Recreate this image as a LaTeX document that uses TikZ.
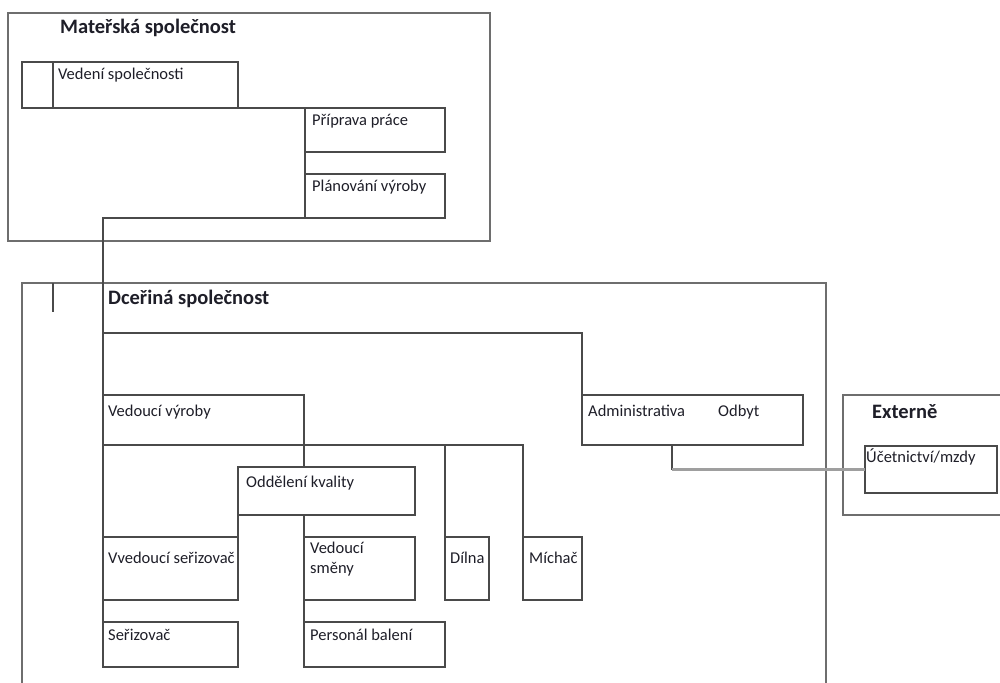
\documentclass[tikz,border=0pt]{standalone}
\usepackage{fontspec}
\setmainfont{Carlito}
\definecolor{lc}{HTML}{4A4A4A}
\definecolor{cc}{HTML}{6E6E6E}
\definecolor{tc}{HTML}{1E1E28}
\tikzset{
  box/.style={draw=lc, line width=1.4pt, inner sep=0pt, outer sep=0pt, anchor=north west, rectangle},
  container/.style={draw=cc, line width=1.4pt, inner sep=0pt, outer sep=0pt, anchor=north west, rectangle},
  conn/.style={draw=lc, line width=1.4pt},
  extconn/.style={draw=gray!75, line width=2.2pt},
  txt/.style={inner sep=0pt, anchor=base west, text=tc, font=\fontsize{16.5}{19}\selectfont},
  ttl/.style={inner sep=0pt, anchor=base west, text=tc, font=\bfseries\fontsize{20.5}{24}\selectfont}
}
\begin{document}
\begin{tikzpicture}[x=1pt,y=-1pt]
\useasboundingbox[fill=white] (0,0) rectangle (1000,682);
\clip (0,0) rectangle (1000,682);

% containers
\node[container, minimum width=482pt, minimum height=228pt] (mat) at (8,13) {};
\node[container, minimum width=804pt, minimum height=430pt] (dcer) at (22,283) {};
\node[container, minimum width=180pt, minimum height=120pt] (ext) at (843,395) {};
\draw[conn] ([xshift=31pt]dcer.north west) -- ++(0,29);

% boxes
\node[box, minimum width=216pt, minimum height=46pt] (ved) at (22,62) {};
\draw[conn] ([xshift=31pt]ved.north west) -- ([xshift=31pt]ved.south west);
\node[box, minimum width=140pt, minimum height=44pt] (prip) at (305,108) {};
\node[box, minimum width=140pt, minimum height=44pt] (plan) at (305,174) {};
\node[box, minimum width=201pt, minimum height=50pt] (vv) at (103,395) {};
\node[box, minimum width=221pt, minimum height=50pt] (admin) at (582,395) {};
\node[box, minimum width=177pt, minimum height=48pt] (odd) at (238,467) {};
\node[box, minimum width=135pt, minimum height=63pt] (vs) at (103,537) {};
\node[box, minimum width=111pt, minimum height=63pt] (vsm) at (304,537) {};
\node[box, minimum width=44pt, minimum height=63pt] (dil) at (445,537) {};
\node[box, minimum width=59pt, minimum height=63pt] (mich) at (523,537) {};
\node[box, minimum width=135pt, minimum height=45pt] (ser) at (103,622) {};
\node[box, minimum width=141pt, minimum height=45pt] (pers) at (304,622) {};
\node[box, minimum width=132pt, minimum height=47pt] (uc) at (865,446) {};

% connectors
\coordinate (j1) at (103,333);
\coordinate (admout) at (672,445);
\draw[conn] (ved.south east) -- (prip.north west);
\draw[conn] (prip.south west) -- (plan.north west);
\draw[conn] (plan.south west) -| (vv.north west);
\draw[conn] (j1) -| (admin.north west);
\draw[conn] (vv.south west) -- (vs.north west);
\draw[conn] (vs.south west) -- (ser.north west);
\draw[conn] (vv.north east) -- (vv.north east |- odd.north);
\draw[conn] (vsm.north west |- odd.south) -- (vsm.north west);
\draw[conn] (vsm.south west) -- (pers.north west);
\draw[conn] (odd.south west) -- (vs.north east);
\draw[conn] (vv.south east) -| (mich.north west);
\draw[conn] (dil.north west |- vv.south) -- (dil.north west);
\draw[conn] (admout) -- (admout |- uc.west);
\draw[extconn] (admout |- uc.west) -- (uc.west);

% texts
\node[ttl] (t-mat) at (60,34) {Mateřská společnost};
\node[txt] (t-ved) at (58,80) {Vedení společnosti};
\node[txt] (t-prip) at (312,125) {Příprava práce};
\node[txt] (t-plan) at (312,191) {Plánování výroby};
\node[ttl] (t-dcer) at (108,304) {Dceřiná společnost};
\node[txt] (t-vv) at (108,416) {Vedoucí výroby};
\node[txt] (t-adm) at (588,416) {Administrativa};
\node[txt] (t-odb) at (718,416) {Odbyt};
\node[ttl] (t-ext) at (872,418) {Externě};
\node[txt] (t-uc) at (866,462) {Účetnictví/mzdy};
\node[txt] (t-odd) at (246,487) {Oddělení kvality};
\node[txt] (t-vs) at (108,563) {Vvedoucí seřizovač};
\node[txt] (t-vsm1) at (310,553) {Vedoucí};
\node[txt] (t-vsm2) at (310,573) {směny};
\node[txt] (t-dil) at (450,563) {Dílna};
\node[txt] (t-mich) at (529,563) {Míchač};
\node[txt] (t-ser) at (108,640) {Seřizovač};
\node[txt] (t-pers) at (310,640) {Personál balení};
\end{tikzpicture}
\end{document}
